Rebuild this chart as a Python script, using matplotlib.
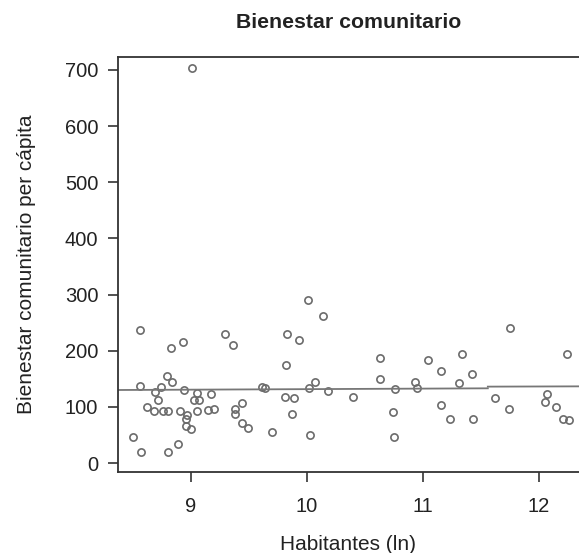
import matplotlib
matplotlib.use("Agg")
import matplotlib.pyplot as plt
import numpy as np

plt.rcParams['font.family'] = ['Liberation Sans', 'DejaVu Sans']

# Data
habitantes_ln = [
    8.56, 8.83, 8.93, 9.29, 9.36, 8.79, 8.84, 8.56, 8.74, 8.69, 8.72, 8.94,
    9.05, 9.03, 9.07, 9.17, 8.62, 8.68, 8.76, 8.80, 8.91, 8.97, 8.96, 8.96,
    9.00, 9.05, 9.15, 9.20, 9.38, 9.38, 8.50, 8.57, 8.80, 8.89,
    10.01, 10.14, 9.83, 9.93, 9.82, 9.61, 9.64, 10.07, 10.02, 10.18, 9.81,
    9.89, 9.44, 9.87, 9.44, 9.49, 9.70, 10.03,
    10.63, 11.04, 11.16, 10.63, 10.93, 10.95, 10.76, 10.40, 11.16, 10.74,
    11.23, 10.75,
    11.75, 11.34, 12.24, 11.42, 11.31, 11.62, 12.07, 12.05, 11.74, 12.15,
    11.43, 12.21, 12.26,
    9.01,
]
bienestar = [
    237, 204, 216, 229, 210, 155, 144, 138, 136, 126, 113, 130,
    124, 112, 113, 122, 100, 93, 93, 93, 93, 86, 78, 66,
    60, 93, 94, 97, 97, 88, 47, 20, 20, 33,
    290, 262, 229, 219, 175, 136, 134, 144, 134, 128, 118,
    115, 107, 88, 72, 62, 55, 49,
    187, 183, 164, 150, 144, 134, 132, 117, 103, 91,
    78, 46,
    241, 194, 195, 159, 142, 116, 122, 109, 97, 99,
    78, 78, 76,
    703,
]

# Fitted line (two segments)
fit1_x = [8.37, 11.56]
fit1_y = [130, 133]
fit2_x = [11.56, 12.35]
fit2_y = [136, 136.5]

xticks = [9, 10, 11, 12]
yticks = [0, 100, 200, 300, 400, 500, 600, 700]

fig = plt.figure(figsize=(5.79, 5.53), dpi=100)
ax = fig.add_axes([0.2033, 0.1465, 0.7967, 0.7504])

ax.plot(habitantes_ln, bienestar, linestyle='none', marker='o',
        markersize=5.2, markerfacecolor='none', markeredgecolor='#6b6b6b',
        markeredgewidth=1.2)
ax.plot(fit1_x, fit1_y, color='#777777', linewidth=1.3)
ax.plot(fit2_x, fit2_y, color='#777777', linewidth=1.3)

ax.set_xlim(8.369, 12.346)
ax.set_ylim(-16, 723)
ax.set_xticks(xticks)
ax.set_yticks(yticks)
ax.set_xticklabels([str(t) for t in xticks])
ax.set_yticklabels([str(t) for t in yticks])

for s in ['left', 'bottom', 'top']:
    ax.spines[s].set_color('#333333')
    ax.spines[s].set_linewidth(1.3)
ax.spines['right'].set_visible(False)

ax.tick_params(axis='both', direction='out', length=7, width=1.2,
               colors='#333333', labelcolor='#222222', labelsize=14.5)
ax.tick_params(axis='x', pad=11)
ax.tick_params(axis='y', pad=7)

ax.set_xlabel('Habitantes (ln)', fontsize=15, color='#222222', labelpad=14)
ax.set_ylabel('Bienestar comunitario per cápita', fontsize=15,
              color='#222222', labelpad=21)
ax.set_title('Bienestar comunitario', fontsize=15.3, fontweight='bold',
             color='#222222', pad=21)

fig.savefig('out.png', dpi=100)
